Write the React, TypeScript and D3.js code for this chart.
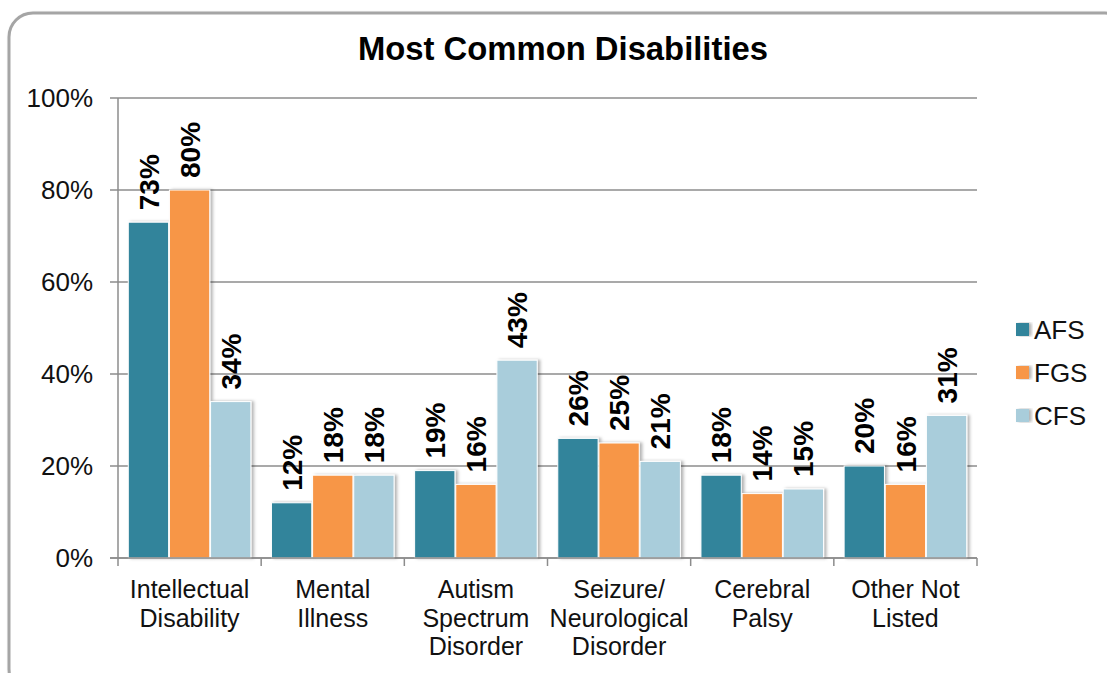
import React from "react";
import * as d3 from "d3";

const categories: string[][] = [
  ["Intellectual", "Disability"],
  ["Mental", "Illness"],
  ["Autism", "Spectrum", "Disorder"],
  ["Seizure/", "Neurological", "Disorder"],
  ["Cerebral", "Palsy"],
  ["Other Not", "Listed"],
];
const seriesNames = ["AFS", "FGS", "CFS"];
const afs = [73, 12, 19, 26, 18, 20];
const fgs = [80, 18, 16, 25, 14, 16];
const cfs = [34, 18, 43, 21, 15, 31];
const seriesValues = [afs, fgs, cfs];
const yTicks = [0, 20, 40, 60, 80, 100];
const colors = ["#31849b", "#f79646", "#a9cddb"];

const W = 1107;
const H = 673;
const FONT = "'Liberation Sans', Arial, sans-serif";

export default function App() {
  const left = 118;
  const right = 977;
  const top = 98;
  const bottom = 558;

  const catKeys = categories.map((c) => c.join(" "));
  const x0 = d3.scaleBand<string>().domain(catKeys).range([left, right]).padding(0);
  const x1 = d3
    .scaleBand<string>()
    .domain(seriesNames)
    .range([0, x0.bandwidth()])
    .paddingInner(0.02)
    .paddingOuter(0.25);
  const y = d3.scaleLinear().domain([0, 100]).range([bottom, top]);

  const boundaries = [...catKeys.map((k) => x0(k) as number), right];

  return (
    <svg
      width={W}
      height={H}
      style={{ position: "absolute", left: 0, top: 0, background: "#fff" }}
      fontFamily={FONT}
    >
      <defs>
        <filter id="barShadow" x="-20%" y="-5%" width="150%" height="110%">
          <feDropShadow dx="2.5" dy="0" stdDeviation="1.5" floodColor="#000" floodOpacity="0.3" />
        </filter>
        <filter id="frameShadow" x="-5%" y="-5%" width="110%" height="110%">
          <feDropShadow dx="1" dy="1" stdDeviation="1" floodColor="#000" floodOpacity="0.25" />
        </filter>
      </defs>

      {/* outer rounded frame */}
      <rect
        x={9}
        y={13}
        width={1120}
        height={680}
        rx={24}
        ry={24}
        fill="#fff"
        stroke="#a5a5a5"
        strokeWidth={3}
        filter="url(#frameShadow)"
      />

      {/* title */}
      <text
        x={563}
        y={60}
        textAnchor="middle"
        fontSize={32.8}
        fontWeight="bold"
        fill="#000"
      >
        Most Common Disabilities
      </text>

      {/* gridlines and y ticks */}
      {yTicks.map((t) => (
        <g key={t}>
          <line
            x1={left - 8}
            x2={right}
            y1={y(t)}
            y2={y(t)}
            stroke="#8c8c8c"
            strokeWidth={1.5}
          />
          <text
            x={93}
            y={y(t)}
            dy="0.36em"
            textAnchor="end"
            fontSize={26}
            fill="#111"
          >
            {t}%
          </text>
        </g>
      ))}

      {/* y axis */}
      <line x1={left} x2={left} y1={top} y2={bottom} stroke="#8c8c8c" strokeWidth={1.5} />

      {/* category tick marks */}
      {boundaries.map((bx, i) => (
        <line
          key={i}
          x1={bx}
          x2={bx}
          y1={bottom}
          y2={bottom + 8}
          stroke="#8c8c8c"
          strokeWidth={1.5}
        />
      ))}

      {/* bars */}
      {catKeys.map((k, ci) => (
        <g key={k} transform={`translate(${x0(k)},0)`}>
          {seriesNames.map((s, si) => {
            const v = seriesValues[si][ci];
            const bx = x1(s) as number;
            return (
              <rect
                key={s}
                x={bx}
                y={y(v)}
                width={x1.bandwidth()}
                height={bottom - y(v)}
                fill={colors[si]}
                stroke="#fff"
                strokeWidth={1}
                filter="url(#barShadow)"
              />
            );
          })}
        </g>
      ))}

      {/* x axis line drawn above bars */}
      <line x1={left - 8} x2={right} y1={bottom} y2={bottom} stroke="#8c8c8c" strokeWidth={1.5} />

      {/* value labels */}
      {catKeys.map((k, ci) =>
        seriesNames.map((s, si) => {
          const v = seriesValues[si][ci];
          const cx = (x0(k) as number) + (x1(s) as number) + x1.bandwidth() / 2;
          return (
            <text
              key={`${k}-${s}`}
              transform={`translate(${cx},${y(v) - 12}) rotate(-90)`}
              dy="0.36em"
              textAnchor="start"
              fontSize={28}
              fontWeight="bold"
              fill="#000"
            >
              {v}%
            </text>
          );
        })
      )}

      {/* category labels */}
      {categories.map((lines, ci) => {
        const cx = (x0(catKeys[ci]) as number) + x0.bandwidth() / 2;
        return (
          <text key={ci} x={cx} y={598} textAnchor="middle" fontSize={25} fill="#111">
            {lines.map((ln, li) => (
              <tspan key={li} x={cx} dy={li === 0 ? 0 : 28.5}>
                {ln}
              </tspan>
            ))}
          </text>
        );
      })}

      {/* legend */}
      {seriesNames.map((s, si) => {
        const cy = 330 + si * 43;
        return (
          <g key={s}>
            <rect
              x={1016}
              y={cy - 7}
              width={13}
              height={13}
              fill={colors[si]}
              filter="url(#barShadow)"
            />
            <text x={1034} y={cy} dy="0.36em" fontSize={26} fill="#111">
              {s}
            </text>
          </g>
        );
      })}
    </svg>
  );
}
